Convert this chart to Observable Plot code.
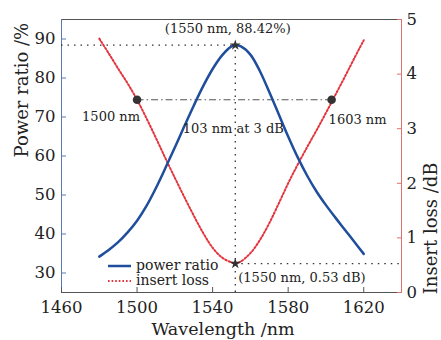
<!DOCTYPE html>
<html><head><meta charset="utf-8">
<script src="https://cdn.jsdelivr.net/npm/d3@7"></script>
<script src="https://cdn.jsdelivr.net/npm/@observablehq/plot@0.6"></script>
<style>
body{margin:0;background:#fff;}
#chart svg{display:block;font-family:"DejaVu Serif",serif;}
</style></head><body><div id="chart"></div>
<script>
// ---- data ----
const wavelength = [1480,1485,1490,1495,1500,1505,1510,1515,1520,1525,1530,1535,1540,1545,1550,1552,1555,1560,1565,1570,1575,1580,1585,1590,1595,1600,1605,1610,1615,1620];
const powerRatio = [34.2,35.9,37.9,40.4,43.4,47.2,51.8,56.9,62.2,67.6,72.9,77.9,82.3,85.8,88.1,88.42,88.1,86.0,81.8,76.4,70.7,65.0,59.7,55.0,50.9,47.4,44.2,41.1,38.0,34.9];
const insertLoss = [4.65,4.38,4.10,3.83,3.53,3.19,2.83,2.46,2.10,1.75,1.41,1.09,0.82,0.64,0.55,0.53,0.57,0.72,0.96,1.27,1.63,2.00,2.34,2.66,2.97,3.29,3.62,3.95,4.29,4.62];
const peakWavelength = 1552;
const peakPower = 88.42;
const minLoss = 0.53;
const bandEdges = [1500, 1603];
const bandLoss = 3.53;
const xTicks = [1460,1500,1540,1580,1620];
const powerTicks = [30,40,50,60,70,80,90];
const lossTicks = [0,1,2,3,4,5];
const xDomain = [1460,1640];
const powerDomain = [25,95];
const lossDomain = [0,5];
const seriesNames = ["power ratio","insert loss"];
const peakLabel = "(1550 nm, 88.42%)";
const minLabel = "(1550 nm, 0.53 dB)";
const edgeLabels = ["1500 nm","1603 nm"];
const bandLabel = "103 nm at 3 dB";
const xTitle = "Wavelength /nm";
const yTitle = "Power ratio /%";
const y2Title = "Insert loss /dB";

// map loss (right axis) onto the left-axis coordinate space
const toY = d => powerDomain[0] + (d - lossDomain[0]) * (powerDomain[1]-powerDomain[0])/(lossDomain[1]-lossDomain[0]);
const fromY = v => (v - powerDomain[0]) * (lossDomain[1]-lossDomain[0])/(powerDomain[1]-powerDomain[0]) + lossDomain[0];

const data = wavelength.map((w,i) => ({w, p: powerRatio[i], l: toY(insertLoss[i])}));

const BLUE = "#1f4e9c", RED = "#e3343e", DARK = "#333", AXISBLUE = "#5a78b0", AXISRED = "#e07070", GRAY = "#555";

const chart = Plot.plot({
  width: 441, height: 340,
  marginLeft: 61, marginRight: 40, marginTop: 19, marginBottom: 48,
  style: {fontFamily: "DejaVu Serif", fontSize: "16.5px", color: "#222", background: "#fff"},
  x: {domain: xDomain},
  y: {domain: powerDomain},
  marks: [
    // frame
    Plot.ruleY([powerDomain[1]], {stroke: GRAY}),
    Plot.ruleY([powerDomain[0]], {stroke: GRAY}),
    Plot.ruleX([xDomain[0]], {stroke: AXISBLUE}),
    Plot.ruleX([xDomain[1]], {stroke: AXISRED}),
    // inward ticks
    Plot.axisX({ticks: xTicks, tickSize: 5, dy: -5, tickFormat: () => "", stroke: GRAY, label: null}),
    Plot.axisY({ticks: powerTicks, tickSize: 5, dx: 5, tickFormat: () => "", stroke: AXISBLUE, label: null}),
    Plot.axisY({anchor: "right", ticks: lossTicks.map(toY), tickSize: 5, dx: -5, tickFormat: () => "", stroke: AXISRED, label: null}),
    // tick labels
    Plot.axisX({ticks: xTicks, tickSize: 0, tickPadding: 9, tickFormat: d => String(d), label: null}),
    Plot.axisY({ticks: powerTicks, tickSize: 0, tickPadding: 6, tickFormat: d => String(d), label: null}),
    Plot.axisY({anchor: "right", ticks: lossTicks.map(toY), tickSize: 0, tickPadding: 5, tickFormat: v => String(Math.round(fromY(v))), label: null}),
    // reference lines
    Plot.ruleY([peakPower], {x1: xDomain[0], x2: peakWavelength, stroke: DARK, strokeWidth: 1.3, strokeDasharray: "1.5,5"}),
    Plot.ruleX([peakWavelength], {y1: powerDomain[0], y2: peakPower, stroke: DARK, strokeWidth: 1.3, strokeDasharray: "1.5,5"}),
    Plot.ruleY([toY(minLoss)], {x1: peakWavelength, x2: xDomain[1], stroke: DARK, strokeWidth: 1.3, strokeDasharray: "1.5,5"}),
    Plot.ruleY([toY(bandLoss)], {x1: bandEdges[0], x2: bandEdges[1], stroke: GRAY, strokeWidth: 1, strokeDasharray: "7,3,1.5,3"}),
    // curves
    Plot.line(data, {x: "w", y: "l", stroke: RED, strokeWidth: 2, strokeDasharray: "1.6,2", curve: "catmull-rom"}),
    Plot.line(data, {x: "w", y: "p", stroke: BLUE, strokeWidth: 2.5, curve: "catmull-rom"}),
    // markers
    Plot.dot(bandEdges, {x: d => d, y: toY(bandLoss), r: 4.3, fill: DARK}),
    Plot.dot([[peakWavelength, peakPower],[peakWavelength, toY(minLoss)]], {x: d => d[0], y: d => d[1], symbol: "star", r: 3.4, fill: DARK}),
    // annotations
    Plot.text([peakLabel], {x: peakWavelength, y: peakPower, text: d => d, dx: -7.5, dy: -12.5, lineAnchor: "bottom", fontSize: 13, fill: "#222"}),
    Plot.text([minLabel], {x: peakWavelength, y: toY(minLoss), text: d => d, dx: 3, dy: 18, lineAnchor: "bottom", textAnchor: "start", fontSize: 13, fill: "#222"}),
    Plot.text([edgeLabels[0]], {x: bandEdges[0], y: toY(bandLoss), text: d => d, dx: -26, dy: 21, lineAnchor: "bottom", fontSize: 13, fill: "#222"}),
    Plot.text([edgeLabels[1]], {x: bandEdges[1], y: toY(bandLoss), text: d => d, dx: -3, dy: 24, lineAnchor: "bottom", textAnchor: "start", fontSize: 13, fill: "#222"}),
    Plot.text([bandLabel], {x: peakWavelength, y: toY(bandLoss), text: d => d, dx: -2, dy: 33, lineAnchor: "bottom", fontSize: 13, fill: "#222"}),
    // axis titles
    Plot.text([xTitle], {frameAnchor: "bottom", text: d => d, dx: -8.5, dy: 42, lineAnchor: "bottom", fontSize: 17.5, fill: "#222"}),
    Plot.text([yTitle], {frameAnchor: "left", text: d => d, rotate: -90, dx: -39, dy: 1.5, fontSize: 18, fill: "#222"}),
    Plot.text([y2Title], {frameAnchor: "right", text: d => d, rotate: -90, dx: 30, dy: 6.5, fontSize: 18, fill: "#222"})
  ]
});

// legend inside the plot area (bottom-left)
const svg = d3.select(chart);
const lg = svg.append("g").attr("font-family", "DejaVu Serif").attr("font-size", 14).attr("fill", "#222").attr("text-anchor", "start");
const legendStyles = [
  {stroke: BLUE, width: 2.5, dash: null, y: 266},
  {stroke: RED, width: 2, dash: "1.6,2", y: 281}
];
seriesNames.forEach((name, i) => {
  const s = legendStyles[i];
  lg.append("line").attr("x1", 108).attr("x2", 131).attr("y1", s.y).attr("y2", s.y)
    .attr("stroke", s.stroke).attr("stroke-width", s.width).attr("stroke-dasharray", s.dash);
  lg.append("text").attr("x", 136).attr("y", s.y + 4).attr("text-anchor", "start").text(name);
});

document.getElementById("chart").append(chart);
</script>
</body></html>
